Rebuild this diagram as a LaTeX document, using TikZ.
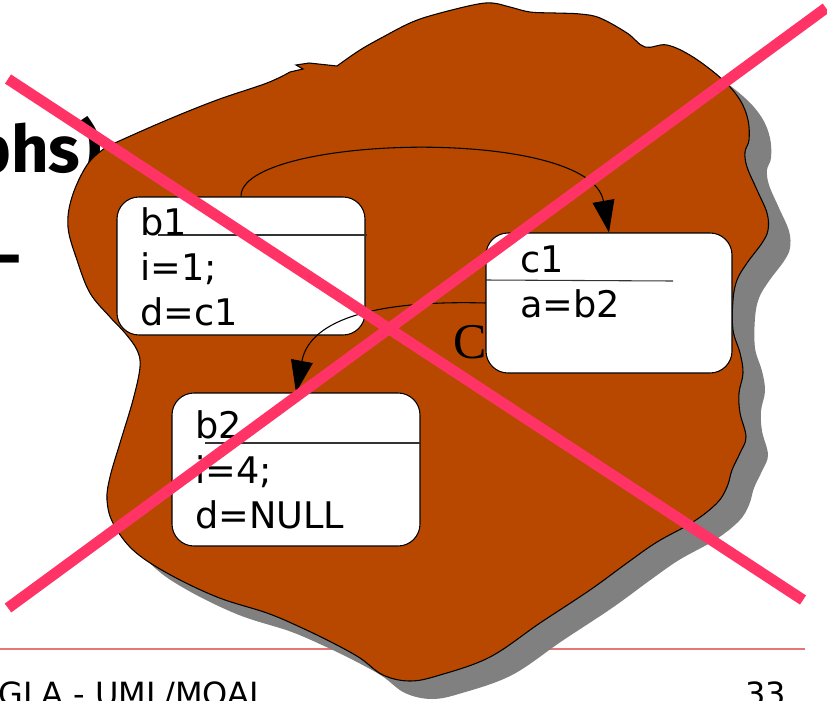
\documentclass[tikz,border=0pt]{standalone}
\usepackage{fontspec}
\newfontfamily\boxfont{DejaVu Sans}
\newfontfamily\handfont{Fira Sans}
\newfontfamily\serfont{Liberation Serif}
\usetikzlibrary{arrows.meta}
\definecolor{blobbrown}{RGB}{184,72,0}
\definecolor{shadowgray}{RGB}{128,128,128}
\definecolor{crosspink}{RGB}{255,51,102}
\definecolor{footline}{RGB}{228,118,118}
\tikzset{
  blob/.pic={
    \path[pic actions] (290,72) -- (303,69) -- (296,65) -- (309,63) -- (337,66)
      -- plot[smooth, tension=0.6] coordinates {(337,66) (360,50) (383,37) (410,23) (433,15) (473,5) (492,3) (510,7) (530,12) (555,13) (580,14) (600,18) (627,33) (645,47) (667,45) (693,57) (723,80) (740,100) (748,120) (749,140) (745,152) (747,167) (757,190) (767,213) (768,230) (762,243) (747,263) (737,280) (733,300) (733,330) (740,353) (743,373) (739,393) (740,413) (746,437) (740,453) (732,470) (727,487) (717,503) (693,522) (657,542) (627,563) (590,590) (540,623) (490,657) (440,675) (410,681) (383,675) (360,658) (333,643) (300,627) (267,613) (217,597) (167,573) (133,550) (113,523) (107,500) (110,477) (120,443) (133,400) (140,367) (137,350) (125,333) (110,317) (90,293) (77,260) (68,227) (72,197) (87,165) (105,148) (117,142) (167,120) (217,100) (267,83) (290,72)} -- cycle;
  },
  objbox/.style={draw=black, line width=0.8pt, fill=white, rounded corners=16.5pt, inner sep=0pt},
  boxtext/.style={anchor=base west, inner sep=0pt, font=\boxfont\fontsize{27.5}{32}\selectfont},
  divider/.style={draw=black!80, line width=0.8pt},
  link/.style={draw=black, line width=0.8pt, -{Triangle[length=24pt,width=16.5pt]}},
  cross/.style={draw=crosspink, line width=8.25pt},
  foottext/.style={anchor=base west, inner sep=0pt, font=\boxfont\fontsize{24}{28}\selectfont},
  handtext/.style={inner sep=0pt, font=\handfont\bfseries\fontsize{49}{54}\selectfont},
}
\begin{document}
\begin{tikzpicture}[x=0.75pt,y=-0.75pt]
\useasboundingbox (0,0) rectangle (827,700);
\clip (0,0) rectangle (827,700);
% footer rule
\draw[footline, line width=2.2pt] (0,649) -- (805,649);
% background heading text
\node[handtext, anchor=base east] (heading) at (102,172) {phs)};
\node[handtext, anchor=base east] (dash) at (22,279) {-};
% blob with shadow
\pic[fill=shadowgray] at (22,18) {blob};
\pic[fill=blobbrown, draw=black, line width=0.8pt] at (0,0) {blob};
% hidden big letter
\node[anchor=base west, inner sep=0pt, font=\serfont\fontsize{37.5}{40}\selectfont] (bigC) at (453,358) {C};
% object boxes
\node[objbox, minimum width=186pt, minimum height=103.5pt] (b1) at (241,266) {};
\node[objbox, minimum width=184.5pt, minimum height=105pt] (c1) at (609,303) {};
\node[objbox, minimum width=186pt, minimum height=114.75pt] (b2) at (296,469.5) {};
% dividers
\draw[divider] (158,235) -- (367,235);
\draw[divider] (486,280) -- (673,281);
\draw[divider] (205,443) -- (420,443);
% texts
\node[boxtext] (b1name) at (140,235) {b1};
\node[boxtext] (b1i) at (140,280) {i=1;};
\node[boxtext] (b1d) at (140,325) {d=c1};
\node[boxtext] (c1name) at (520,272) {c1};
\node[boxtext] (c1a) at (520,317) {a=b2};
\node[boxtext] (b2name) at (195,438) {b2};
\node[boxtext] (b2i) at (195,483) {i=4;};
\node[boxtext] (b2d) at (195,528) {d=NULL};
% links
\draw[link] (b1.north) .. controls (240,135) and (590,125) .. (c1.north);
\draw[link] (c1.west) .. controls (380,300) and (310,318) .. (b2.north);
% cross
\draw[cross] (8,79) -- (803,600);
\draw[cross] (8,608) -- (826,8);
% footer texts
\node[foottext] (footer) at (-2,705) {GLA - UML/MOAL};
\node[foottext] (pagenum) at (745,705) {33};
\end{tikzpicture}
\end{document}
